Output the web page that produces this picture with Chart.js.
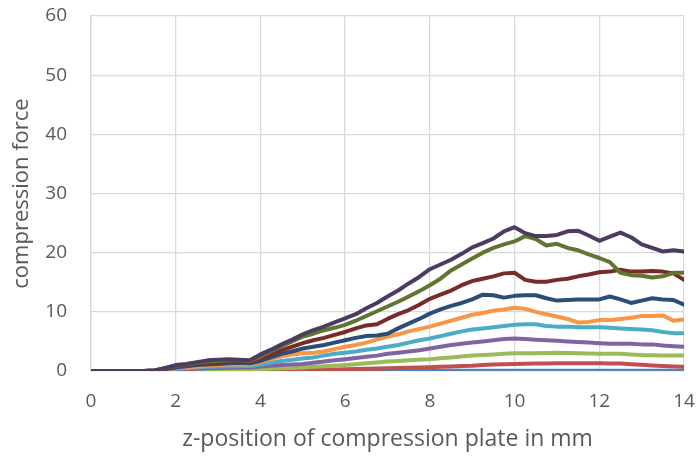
<!DOCTYPE html>
<html>
<head>
<meta charset="utf-8">
<script src="https://cdn.jsdelivr.net/npm/chart.js@4/dist/chart.umd.min.js"></script>
<style>
html,body{margin:0;padding:0;background:#fff;}
#wrap{width:697px;height:458px;position:relative;}
</style>
</head>
<body>
<div id="wrap"><canvas id="c" width="697" height="458"></canvas></div>
<script>
const xPositions = [0,0.25,0.5,0.75,1,1.25,1.5,1.75,2,2.25,2.5,2.75,3,3.25,3.5,3.75,4,4.25,4.5,4.75,5,5.25,5.5,5.75,6,6.25,6.5,6.75,7,7.25,7.5,7.75,8,8.25,8.5,8.75,9,9.25,9.5,9.75,10,10.25,10.5,10.75,11,11.25,11.5,11.75,12,12.25,12.5,12.75,13,13.25,13.5,13.75,14];

const seriesBlue = [0,0,0,0,0,0,0,0,0,0,0,0,0,0,0,0,0,0,0,0,0,0,0,0,0,0,0,0,0.02,0.02,0.03,0.03,0.04,0.04,0.05,0.05,0.05,0.05,0.06,0.06,0.06,0.06,0.06,0.06,0.06,0.06,0.06,0.06,0.06,0.06,0.06,0.06,0.06,0.06,0.05,0.05,0.05];
const seriesRed = [0,0,0,0,0,0,0,0.02,0.03,0.05,0.06,0.08,0.1,0.1,0.1,0.1,0.1,0.12,0.13,0.14,0.15,0.18,0.2,0.25,0.3,0.34,0.38,0.42,0.45,0.5,0.55,0.6,0.65,0.72,0.78,0.85,0.9,1.0,1.1,1.15,1.2,1.22,1.25,1.28,1.3,1.3,1.3,1.3,1.3,1.28,1.25,1.15,1.05,0.95,0.85,0.78,0.7];
const seriesLightGreen = [0,0,0,0,0,0,0,0.05,0.1,0.13,0.15,0.18,0.2,0.22,0.24,0.25,0.3,0.37,0.45,0.52,0.6,0.7,0.8,0.9,1.0,1.15,1.3,1.45,1.6,1.7,1.8,1.9,2.0,2.15,2.3,2.45,2.6,2.7,2.8,2.9,3.0,3.0,3.0,3.05,3.1,3.05,3.0,2.95,2.9,2.9,2.9,2.8,2.7,2.65,2.6,2.6,2.6];
const seriesLavender = [0,0,0,0,0,0,0.03,0.1,0.25,0.3,0.4,0.45,0.5,0.55,0.6,0.6,0.75,0.9,1.0,1.1,1.2,1.4,1.6,1.8,2.0,2.2,2.4,2.6,2.9,3.1,3.3,3.5,3.8,4.1,4.4,4.6,4.8,5.0,5.2,5.4,5.5,5.4,5.3,5.2,5.1,5.0,4.9,4.8,4.7,4.6,4.6,4.6,4.5,4.5,4.3,4.2,4.1];
const seriesCyan = [0,0,0,0,0,0,0.05,0.2,0.4,0.5,0.6,0.7,0.75,0.8,0.85,0.85,1.1,1.4,1.7,1.9,2.1,2.3,2.6,2.9,3.1,3.3,3.6,3.8,4.1,4.4,4.8,5.2,5.5,5.9,6.3,6.7,7.0,7.2,7.4,7.6,7.8,7.9,7.9,7.6,7.5,7.5,7.4,7.4,7.4,7.3,7.2,7.1,7.0,6.9,6.6,6.4,6.4];
const seriesOrange = [0,0,0,0,0,0,0.05,0.25,0.5,0.6,0.75,0.9,1.0,1.1,1.1,1.1,1.5,2.0,2.5,2.8,3.0,3.1,3.3,3.7,4.1,4.4,4.8,5.3,5.8,6.2,6.7,7.1,7.5,8.0,8.5,9.0,9.5,9.8,10.2,10.4,10.7,10.5,10.0,9.6,9.2,8.8,8.2,8.3,8.6,8.6,8.8,9.0,9.3,9.3,9.4,8.5,8.7];
const seriesDarkBlue = [0,0,0,0,0,0,0.1,0.3,0.6,0.8,1.0,1.1,1.2,1.3,1.4,1.3,1.7,2.3,2.9,3.3,3.8,4.1,4.4,4.8,5.2,5.6,5.9,6.0,6.3,7.2,8.0,8.8,9.7,10.4,11.0,11.5,12.1,12.9,12.8,12.4,12.7,12.8,12.8,12.3,11.9,12.0,12.1,12.1,12.1,12.6,12.1,11.5,11.9,12.3,12.1,12.0,11.2];
const seriesDarkRed = [0,0,0,0,0,0,0.1,0.4,0.8,1.0,1.2,1.4,1.4,1.6,1.6,1.5,2.1,2.8,3.5,4.1,4.7,5.2,5.6,6.1,6.6,7.2,7.7,7.9,8.8,9.6,10.3,11.2,12.2,12.9,13.6,14.5,15.2,15.6,16.0,16.5,16.6,15.4,15.1,15.1,15.4,15.6,16.0,16.3,16.7,16.8,17.1,16.8,16.8,16.9,16.8,16.5,15.4];
const seriesOlive = [0,0,0,0,0,0,0.1,0.45,0.9,1.1,1.4,1.6,1.7,1.8,1.8,1.7,2.4,3.3,4.2,5.0,5.8,6.3,6.9,7.3,7.8,8.5,9.3,10.1,10.9,11.7,12.6,13.5,14.5,15.6,17.0,18.0,19.0,20.0,20.8,21.4,21.9,22.8,22.3,21.2,21.5,20.8,20.4,19.7,19.1,18.4,16.6,16.2,16.1,15.8,16.0,16.6,16.6];
const seriesDarkPurple = [0,0,0,0,0,0,0.1,0.5,1.0,1.2,1.5,1.8,1.9,2.0,1.9,1.8,2.8,3.6,4.5,5.3,6.2,6.9,7.5,8.2,8.9,9.6,10.6,11.5,12.6,13.6,14.8,15.9,17.2,18.0,18.8,19.8,20.9,21.6,22.4,23.6,24.3,23.3,22.8,22.8,23.0,23.6,23.7,22.9,22.0,22.7,23.4,22.6,21.4,20.8,20.2,20.4,20.2];

const seriesList = [seriesBlue, seriesRed, seriesLightGreen, seriesLavender, seriesCyan, seriesOrange, seriesDarkBlue, seriesDarkRed, seriesOlive, seriesDarkPurple];
const seriesColors = ['#4F81BD','#C0504D','#9BBB59','#8064A2','#4BACC6','#F79646','#2C4D75','#772C2A','#5F7530','#4D3B62'];
const yTicks = [0,10,20,30,40,50,60];
const xTicks = [0,2,4,6,8,10,12,14];
const xTitle = 'z-position of compression plate in mm';
const yTitle = 'compression force';

const datasets = seriesList.map((vals, i) => ({
  data: vals.map((v, k) => ({x: xPositions[k], y: v})),
  borderColor: seriesColors[i],
  backgroundColor: seriesColors[i],
  borderWidth: 4,
  pointRadius: 0,
  tension: 0,
  borderJoinStyle: 'round',
  borderCapStyle: 'round',
  fill: false,
  order: seriesList.length - i
}));

const FONT = '"Open Sans", sans-serif';
new Chart(document.getElementById('c'), {
  type: 'line',
  data: {datasets},
  options: {
    responsive: false,
    animation: false,
    devicePixelRatio: 1,
    layout: {padding: {left: 0, right: 13, top: 16, bottom: 0}},
    plugins: {legend: {display: false}, tooltip: {enabled: false}},
    scales: {
      x: {
        type: 'linear', min: 0, max: 14,
        afterBuildTicks: (s) => { s.ticks = xTicks.map(v => ({value: v})); },
        afterFit: (s) => { s.height = 87; s.paddingLeft = 0; s.paddingRight = 0; },
        grid: {color: '#D9D9D9', lineWidth: 1.3, drawTicks: false},
        border: {color: '#D9D9D9', width: 1.3},
        ticks: {color: '#595959', font: {family: FONT, size: 19}, padding: 19, maxRotation: 0},
        title: {display: true, text: xTitle, color: '#595959', font: {family: FONT, size: 23}, padding: {top: 0, bottom: 5}}
      },
      y: {
        min: 0, max: 60,
        afterBuildTicks: (s) => { s.ticks = yTicks.map(v => ({value: v})); },
        afterFit: (s) => { s.width = 91; s.paddingTop = 0; s.paddingBottom = 0; },
        grid: {color: '#D9D9D9', lineWidth: 1.3, drawTicks: false},
        border: {color: '#D9D9D9', width: 1.3},
        ticks: {color: '#595959', font: {family: FONT, size: 19}, padding: 24},
        title: {display: true, text: yTitle, color: '#595959', font: {family: FONT, size: 22}, padding: {top: 9, bottom: 0}}
      }
    }
  }
});
</script>
</body>
</html>
